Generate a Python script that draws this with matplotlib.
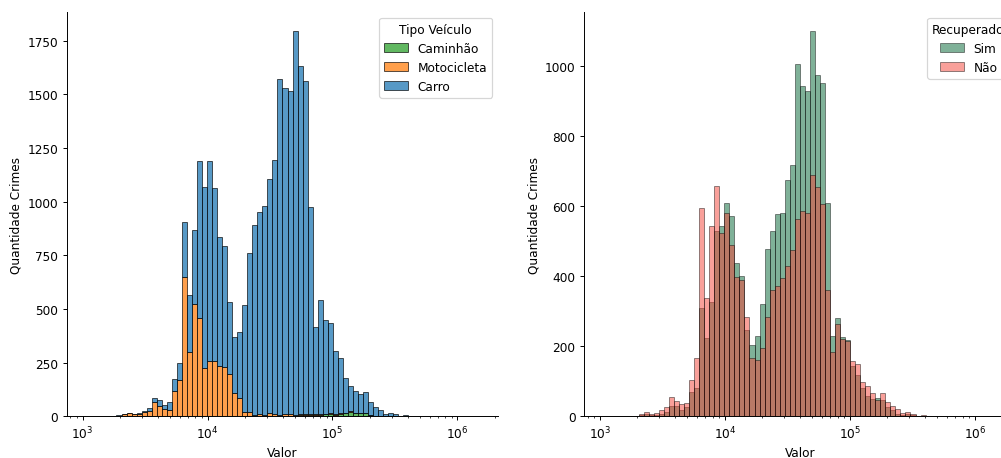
import numpy as np
import matplotlib
matplotlib.use('Agg')
import matplotlib.pyplot as plt
import matplotlib.patches as mpatches

# bins (log10 of Valor), shared by both panels
log_min, log_max, n_bins = 3.03, 6.17, 78

# left panel: crimes per bin, stacked by vehicle type
total = [1, 0, 2, 0, 2, 3, 4, 11, 17, 11, 14, 26, 37, 84, 74, 51, 65, 176, 248, 905,
         564, 868, 1190, 1067, 1190, 1062, 835, 795, 534, 371, 392, 519, 762, 892, 953, 978,
         1104, 1194, 1573, 1528, 1514, 1794, 1631, 1562, 974, 415, 540, 447, 436, 303, 270,
         177, 143, 116, 103, 112, 65, 45, 28, 12, 17, 11, 1, 6, 1, 3, 3, 0, 1, 0, 0, 1,
         0, 0, 0, 0, 0, 1]
moto = [1, 0, 2, 0, 2, 3, 3, 10, 14, 10, 12, 22, 26, 65, 48, 34, 31, 116, 167, 648,
        301, 522, 457, 224, 256, 256, 233, 228, 199, 109, 84, 20, 20, 8, 8, 6,
        12, 8, 5, 7, 10, 4, 5, 5, 8, 5, 4, 3, 3, 2, 2,
        1, 1, 1, 0, 0, 0, 0, 0, 0, 0, 0, 0, 0, 0, 0, 0, 0, 0, 0, 0, 0,
        0, 0, 0, 0, 0, 0]
caminhao = [0, 0, 0, 0, 0, 0, 0, 0, 0, 0, 0, 0, 0, 0, 0, 0, 0, 0, 0, 0,
            0, 0, 0, 0, 0, 0, 0, 0, 0, 0, 0, 0, 0, 0, 1, 1,
            2, 2, 2, 2, 3, 3, 4, 5, 5, 6, 8, 10, 12, 8, 12,
            14, 22, 14, 14, 16, 5, 2, 1, 1, 1, 0, 0, 0, 0, 0, 0, 0, 0, 0, 0, 0,
            0, 0, 0, 0, 0, 0]
carro = [t - m - c for t, m, c in zip(total, moto, caminhao)]

# right panel: recovered or not, layered
sim = [1, 0, 1, 0, 1, 1, 2, 4, 6, 4, 5, 8, 11, 29, 29, 17, 28, 70, 82, 309,
       223, 326, 530, 543, 608, 571, 437, 402, 247, 203, 229, 320, 478, 529, 577, 581,
       674, 717, 1007, 943, 930, 1100, 974, 952, 609, 229, 280, 226, 219, 145, 118,
       80, 57, 50, 52, 47, 28, 17, 7, 3, 6, 4, 1, 2, 1, 1, 1, 0, 0, 0, 0, 0,
       0, 0, 0, 0, 0, 1]
nao = [0, 0, 1, 0, 1, 2, 2, 7, 11, 7, 9, 18, 26, 55, 45, 34, 37, 104, 167, 594,
       337, 543, 657, 523, 580, 490, 397, 389, 284, 167, 160, 194, 285, 362, 373, 395,
       429, 475, 563, 586, 582, 690, 655, 606, 362, 185, 263, 221, 216, 158, 149,
       97, 86, 67, 46, 67, 40, 29, 22, 9, 11, 6, 1, 3, 1, 2, 2, 0, 1, 0, 0, 0,
       0, 0, 0, 0, 0, 0]

edges = np.logspace(log_min, log_max, n_bins + 1)
left = edges[:-1]
widths = np.diff(edges)

dpi = 87
fig = plt.figure(figsize=(1001 / dpi, 459 / dpi), dpi=dpi)
ax1 = fig.add_axes([0.0666, 0.0908, 0.4312, 0.881])
ax2 = fig.add_axes([0.5834, 0.0908, 0.4312, 0.881])

# stacked panel
c_cam, c_moto, c_carro = '#2ca02c', '#ff7f0e', '#1f77b4'
kw1 = dict(align='edge', alpha=0.75, edgecolor='black', linewidth=0.7)
ax1.set_xscale('log')
ax1.bar(left, caminhao, width=widths, color=c_cam, **kw1)
ax1.bar(left, moto, width=widths, bottom=caminhao, color=c_moto, **kw1)
bottom_carro = [c + m for c, m in zip(caminhao, moto)]
ax1.bar(left, carro, width=widths, bottom=bottom_carro, color=c_carro, **kw1)
h1 = [mpatches.Patch(facecolor=c, edgecolor='black', alpha=0.75, linewidth=0.7, label=l)
      for c, l in [(c_cam, 'Caminhão'), (c_moto, 'Motocicleta'), (c_carro, 'Carro')]]
ax1.legend(handles=h1, title='Tipo Veículo', loc='upper right')

# layered panel
c_sim, c_nao = '#006432', '#f44336'
kw2 = dict(align='edge', alpha=0.5, edgecolor='black', linewidth=0.7)
ax2.set_xscale('log')
ax2.bar(left, sim, width=widths, color=c_sim, **kw2)
ax2.bar(left, nao, width=widths, color=c_nao, **kw2)
h2 = [mpatches.Patch(facecolor=c, edgecolor='black', alpha=0.5, linewidth=0.7, label=l)
      for c, l in [(c_sim, 'Sim'), (c_nao, 'Não')]]
ax2.legend(handles=h2, title='Recuperado', loc='upper right')

for ax in (ax1, ax2):
    ax.set_xlabel('Valor')
    ax.set_ylabel('Quantidade Crimes')
    ax.spines['top'].set_visible(False)
    ax.spines['right'].set_visible(False)

fig.savefig('out.png', dpi=dpi)
